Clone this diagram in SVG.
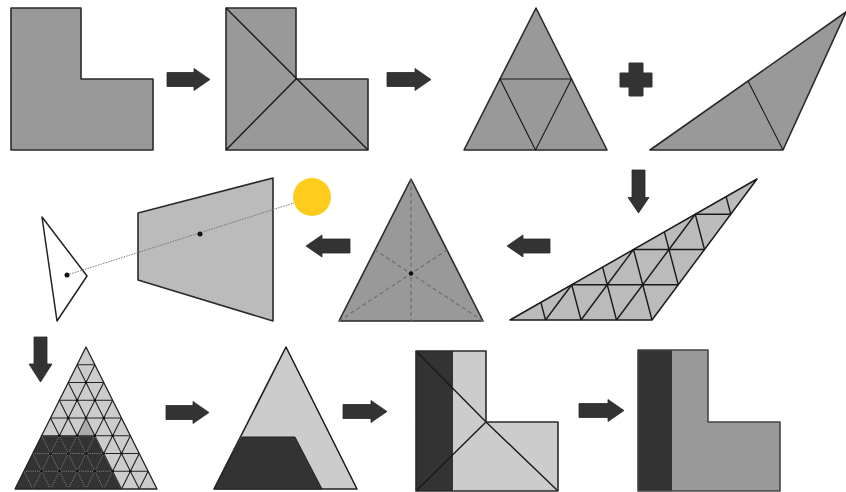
<svg xmlns="http://www.w3.org/2000/svg" width="846" height="492" viewBox="0 0 846 492">
<style>
.sh{fill:#999;stroke:#2a2a2a;stroke-width:1.6;stroke-linejoin:round}
.ln{fill:none;stroke:#1a1a1a;stroke-width:1.1}
.lnt{fill:none;stroke:#1a1a1a;stroke-width:1.4}
.arr{fill:#333;stroke:#2a2a2a;stroke-width:0.8;stroke-linejoin:round}
.dk{fill:#333}
.lt{fill:#ccc}
.dot{fill:#111}
</style>
<defs>
<g id="bgrid">
<path d="M23.875 471.25H148.125M32.75 453.5H139.25M41.625 435.75H130.375M50.5 418H121.5M59.375 400.25H112.625M68.25 382.5H103.75M77.125 364.75H94.875"/>
<path d="M32.75 489L94.875 364.75M50.5 489L103.75 382.5M68.25 489L112.625 400.25M86 489L121.5 418M103.75 489L130.375 435.75M121.5 489L139.25 453.5M139.25 489L148.125 471.25"/>
<path d="M32.75 489L23.875 471.25M50.5 489L32.75 453.5M68.25 489L41.625 435.75M86 489L50.5 418M103.75 489L59.375 400.25M121.5 489L68.25 382.5M139.25 489L77.125 364.75"/>
</g>
<clipPath id="dkclip"><polygon points="15,489 41.625,435.75 94.875,435.75 121.5,489"/></clipPath>
</defs>

<!-- Row 1 -->
<g id="L1">
<polygon class="sh" points="11,8 81,8 81,79 153,79 153,150 11,150"/>
</g>
<g id="L2">
<polygon class="sh" points="226,8 296,8 296,79 368,79 368,150 226,150"/>
<path class="lnt" d="M226 8L368 150M226 150L296 79"/>
</g>
<g id="tri1">
<polygon class="sh" points="536,8 607,150 464,150"/>
<path class="ln" d="M500 79H571.5L535.5 150Z"/>
</g>
<g id="plus">
<path d="M629 63h14v10h9v14h-9v9h-14v-9h-9v-14h9z" fill="#333" stroke="#333" stroke-width="1" stroke-linejoin="round"/>
</g>
<g id="tri2">
<polygon class="sh" points="650,150 783,150 846,12"/>
<path class="ln" d="M748 81L783 150"/>
</g>

<!-- Row 2 -->
<g id="mesh">
<polygon points="510,320 652,320 757,179" fill="#bbb" stroke="#1a1a1a" stroke-width="1.5" stroke-linejoin="round"/>
<path class="lnt" d="M571.75 284.75H678.25M633.5 249.5H704.5M695.25 214.25H730.75
M540.875 302.375L545.5 320M602.625 267.125L607.25 284.75M664.375 231.875L669 249.5M726.125 196.625L730.75 214.25
M545.5 320L571.75 284.75M581 320L607.25 284.75M616.5 320L642.75 284.75M607.25 284.75L633.5 249.5M642.75 284.75L669 249.5M669 249.5L695.25 214.25
M571.75 284.75L581 320M607.25 284.75L616.5 320M642.75 284.75L652 320M633.5 249.5L642.75 284.75M669 249.5L678.25 284.75M695.25 214.25L704.5 249.5"/>
</g>
<g id="equi">
<polygon class="sh" points="411,179 483,321 339,321"/>
<path d="M411 179V321M339 321L447 250M483 321L375 250" fill="none" stroke="#6e6e6e" stroke-width="1.2" stroke-dasharray="4 3"/>
<circle class="dot" cx="411" cy="273.5" r="2.3"/>
</g>
<g id="frustum">
<polygon points="138,213 273,178 273,321 138,280" fill="#bbb" stroke="#2a2a2a" stroke-width="1.6" stroke-linejoin="round"/>
</g>
<g id="sun">
<circle cx="312" cy="197" r="19" fill="#fdcc1c"/>
</g>
<g id="camera">
<polygon points="42,217 87,276 57,321" fill="#fff" stroke="#222" stroke-width="1.5" stroke-linejoin="round"/>
</g>
<g id="ray">
<path d="M67 275L294 203" fill="none" stroke="#777" stroke-width="1" stroke-dasharray="1.5 1.2"/>
<circle class="dot" cx="67" cy="275" r="2.5"/>
<circle class="dot" cx="200" cy="234" r="2.5"/>
</g>

<!-- Row 3 -->
<g id="bigmesh">
<polygon class="lt" points="86,347 157,489 15,489"/>
<polygon points="77.125,435.75 94.875,435.75 86,418" fill="#aaa"/>
<use href="#bgrid" fill="none" stroke="#222" stroke-width="1.1"/>
<polygon class="dk" points="15,489 41.625,435.75 94.875,435.75 121.5,489"/>
<use href="#bgrid" fill="none" stroke="#888" stroke-width="1" stroke-dasharray="1 1.2" clip-path="url(#dkclip)"/>
<g class="dot">
<circle cx="41.625" cy="471.25" r="1.3"/><circle cx="59.375" cy="471.25" r="1.3"/><circle cx="77.125" cy="471.25" r="1.3"/><circle cx="94.875" cy="471.25" r="1.3"/><circle cx="112.625" cy="471.25" r="1.3"/><circle cx="130.375" cy="471.25" r="1.3"/>
<circle cx="50.5" cy="453.5" r="1.3"/><circle cx="68.25" cy="453.5" r="1.3"/><circle cx="86" cy="453.5" r="1.3"/><circle cx="103.75" cy="453.5" r="1.3"/><circle cx="121.5" cy="453.5" r="1.3"/>
<circle cx="59.375" cy="435.75" r="1.3"/><circle cx="77.125" cy="435.75" r="1.3"/><circle cx="94.875" cy="435.75" r="1.3"/><circle cx="112.625" cy="435.75" r="1.3"/>
<circle cx="68.25" cy="418" r="1.3"/><circle cx="86" cy="418" r="1.3"/><circle cx="103.75" cy="418" r="1.3"/>
<circle cx="77.125" cy="400.25" r="1.3"/><circle cx="94.875" cy="400.25" r="1.3"/>
<circle cx="86" cy="382.5" r="1.3"/>
</g>
<polygon points="86,347 157,489 15,489" fill="none" stroke="#222" stroke-width="1.3" stroke-linejoin="round"/>
</g>
<g id="tri3">
<polygon points="286,347 357,489 214,489" fill="#ccc" stroke="#222" stroke-width="1.6" stroke-linejoin="round"/>
<polygon class="dk" points="214,489 242,437 295,437 322,489" stroke="#222" stroke-width="1"/>
</g>
<g id="L3">
<polygon class="lt" points="416,351 486,351 486,422 558,422 558,491 416,491"/>
<rect class="dk" x="416" y="351" width="37" height="140"/>
<path class="lnt" d="M416 351L486 422L558 491M416 491L486 422"/>
<polygon points="416,351 486,351 486,422 558,422 558,491 416,491" fill="none" stroke="#2a2a2a" stroke-width="1.6" stroke-linejoin="round"/>
</g>
<g id="L4">
<polygon points="638,350 708,350 708,422 780,422 780,491 638,491" fill="#999"/>
<rect class="dk" x="638" y="350" width="34" height="141"/>
<polygon points="638,350 708,350 708,422 780,422 780,491 638,491" fill="none" stroke="#444" stroke-width="1.6" stroke-linejoin="round"/>
</g>

<!-- Connectors -->
<g id="connectors">
<polygon class="arr" points="167,72.5 194,72.5 194,68.5 210,79.5 194,90.5 194,86.5 167,86.5"/>
<polygon class="arr" points="387,72.5 415,72.5 415,68.5 431,79.5 415,90.5 415,86.5 387,86.5"/>
<polygon class="arr" points="632,170 645,170 645,197.5 649,197.5 638.5,213 628,197.5 632,197.5"/>
<polygon class="arr" points="550,239 523,239 523,235 507,246 523,257 523,253 550,253"/>
<polygon class="arr" points="350,239 322,239 322,235 306,246 322,257 322,253 350,253"/>
<polygon class="arr" points="34,337 47,337 47,364 52,364 40.5,382 29,364 34,364"/>
<polygon class="arr" points="166,405.5 193,405.5 193,401.5 209,412.5 193,423.5 193,419.5 166,419.5"/>
<polygon class="arr" points="343,404.5 371,404.5 371,400.5 387,411.5 371,422.5 371,418.5 343,418.5"/>
<polygon class="arr" points="579,403.5 608,403.5 608,399.5 624,410.5 608,421.5 608,417.5 579,417.5"/>
</g>
</svg>
